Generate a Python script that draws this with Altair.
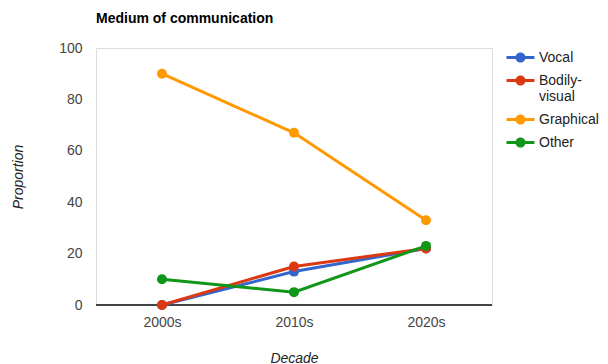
import altair as alt
import pandas as pd

decades = ["2000s", "2010s", "2020s"]
series = ["Vocal", "Bodily-visual", "Graphical", "Other"]
vocal = [0, 13, 22]
bodily_visual = [0, 15, 22]
graphical = [90, 67, 33]
other = [10, 5, 23]
colors = ["#3366cc", "#dc3912", "#ff9900", "#109618"]

values = {"Vocal": vocal, "Bodily-visual": bodily_visual, "Graphical": graphical, "Other": other}
rows = []
for s in series:
    for d, v in zip(decades, values[s]):
        rows.append({"Decade": d, "Proportion": v, "Medium": s})
df = pd.DataFrame(rows)

FONT = "Liberation Sans"

# legend glyph: a short bar with a dot on it
LINE_DOT = ("M-1.5,-0.16H1.5V0.16H-1.5Z "
            "M0.54,0A0.54,0.54 0 1 1 -0.54,0A0.54,0.54 0 1 1 0.54,0Z")

color = alt.Color(
    "Medium:N",
    scale=alt.Scale(domain=series, range=colors),
    legend=alt.Legend(
        title=None,
        orient="none",
        legendX=415,
        legendY=0,
        symbolType=LINE_DOT,
        symbolSize=348,
        symbolStrokeWidth=0,
        labelFont=FONT,
        labelFontSize=14,
        labelColor="#222222",
        labelOffset=9,
        labelBaseline="middle",
        labelExpr="datum.label == 'Bodily-visual' ? ['Bodily-', 'visual'] : datum.label",
        labelLimit=200,
        rowPadding=6,
    ),
)

x = alt.X(
    "Decade:N",
    sort=decades,
    scale=alt.Scale(type="point", padding=0.5),
    axis=alt.Axis(
        title="Decade",
        titleFont=FONT,
        titleFontSize=14,
        titleFontStyle="italic",
        titleFontWeight="normal",
        titleColor="#222222",
        titlePadding=22,
        labelFont=FONT,
        labelFontSize=14,
        labelColor="#444444",
        labelPadding=10,
        labelAngle=0,
        domain=False,
        ticks=False,
        grid=False,
    ),
)

y = alt.Y(
    "Proportion:Q",
    scale=alt.Scale(domain=[0, 100], nice=False),
    axis=alt.Axis(
        title="Proportion",
        titleFont=FONT,
        titleFontSize=14,
        titleFontStyle="italic",
        titleFontWeight="normal",
        titleColor="#222222",
        titlePadding=33,
        values=list(range(0, 101, 10)),
        labelExpr="datum.value % 20 == 0 ? datum.label : ''",
        labelFont=FONT,
        labelFontSize=14,
        labelColor="#444444",
        labelPadding=14,
        domain=False,
        ticks=False,
        gridColor=alt.condition("datum.value % 20 == 0", alt.value("#cccccc"), alt.value("#ebebeb")),
        gridWidth=1,
    ),
)

base = alt.Chart(df).encode(x=x, y=y, color=color)

zero = alt.Chart(df).mark_rule(color="#444444", strokeWidth=1).encode(y=alt.datum(0))

layers = []
for s in series:
    sub = base.transform_filter(alt.datum.Medium == s)
    layers.append(sub.mark_line(strokeWidth=3))
    layers.append(sub.mark_point(filled=True, size=100, opacity=1))

chart = alt.layer(zero, *layers).properties(
    width=396,
    height=257,
    title=alt.TitleParams(
        "Medium of communication",
        anchor="start",
        frame="group",
        font=FONT,
        fontSize=14,
        fontWeight="bold",
        color="#000000",
        offset=15,
    ),
    autosize=alt.AutoSizeParams(type="none"),
    padding={"left": 96, "top": 48, "right": 116, "bottom": 59},
).configure_view(stroke=None).configure(background="white")

chart.save("out.html", embed_options={"renderer": "svg", "actions": False})
